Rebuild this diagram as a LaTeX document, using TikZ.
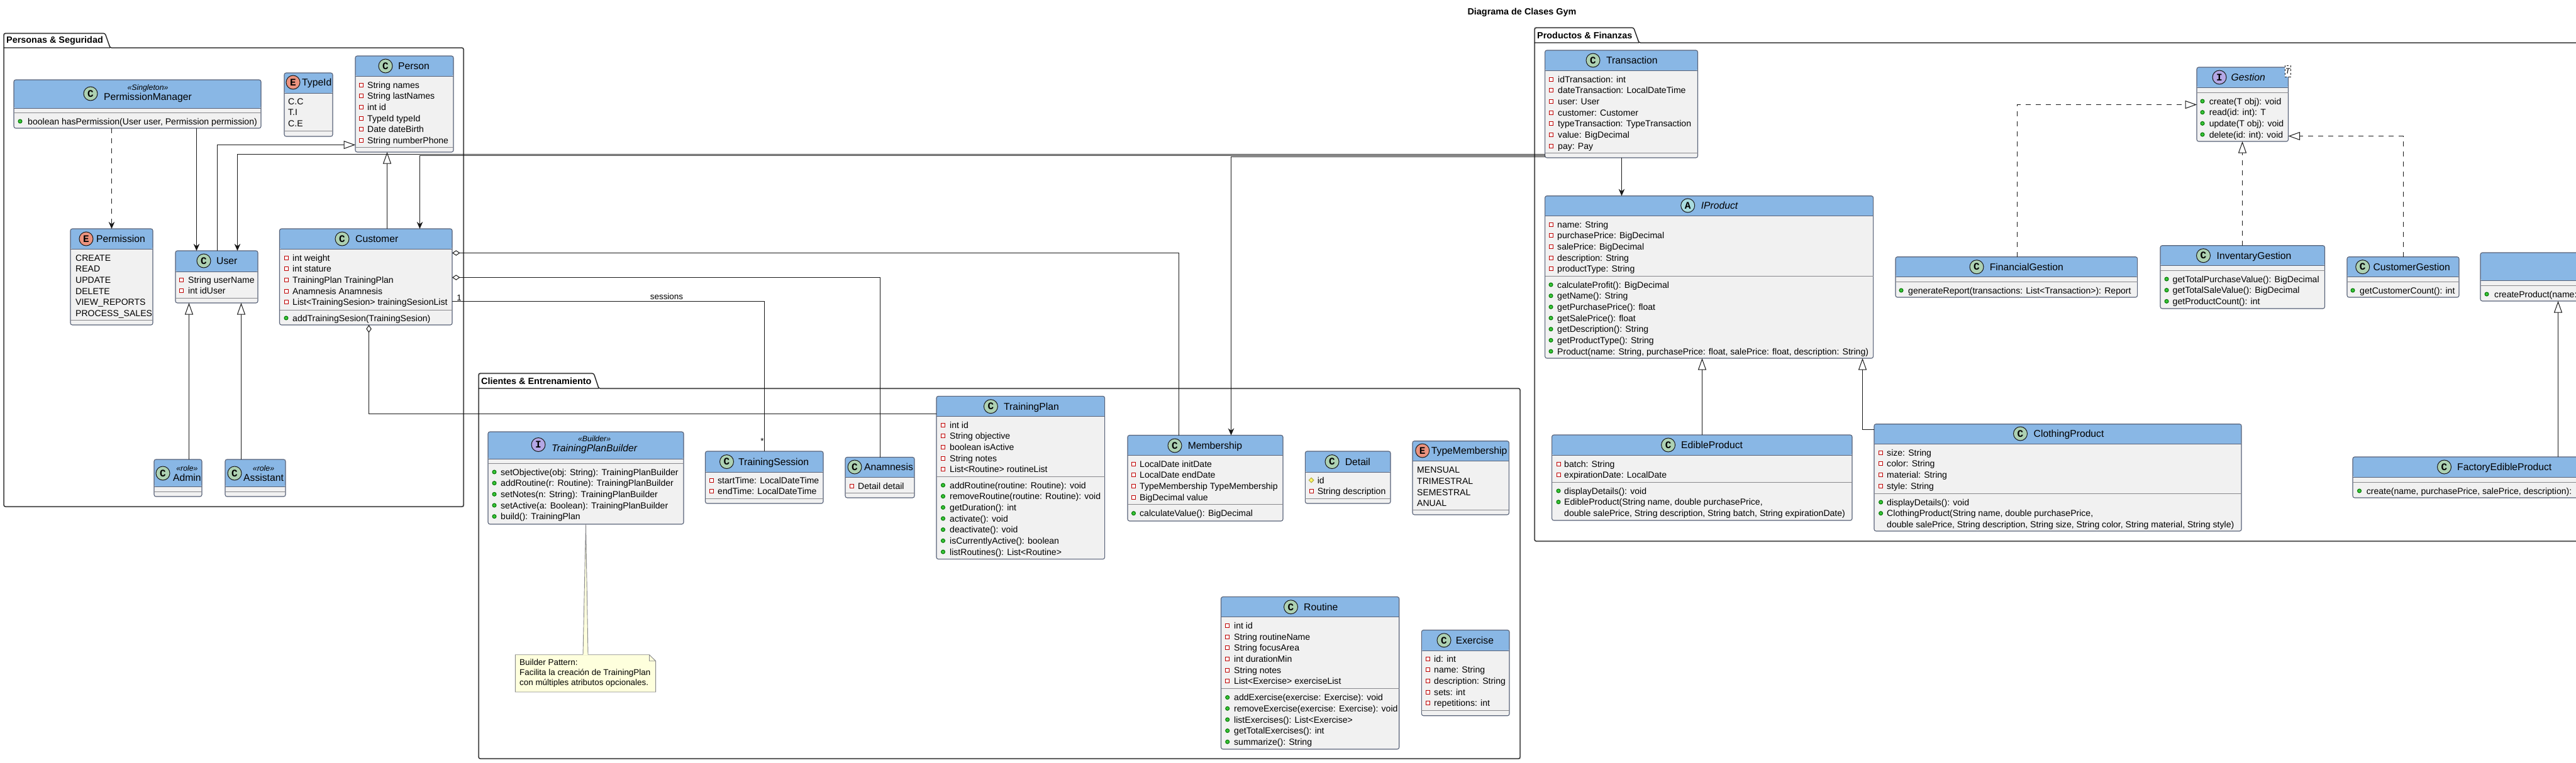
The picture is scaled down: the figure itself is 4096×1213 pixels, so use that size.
\documentclass[tikz,border=0pt]{standalone}
\usepackage{xcolor}
\usepackage{fontspec}
\setmainfont{Liberation Sans}
\newfontfamily\spotfont{Liberation Mono}
\usetikzlibrary{shapes.geometric,arrows.meta}
\definecolor{headblue}{RGB}{137,183,229}
\definecolor{bodygray}{RGB}{241,241,241}
\definecolor{boxline}{RGB}{88,98,120}
\definecolor{rowline}{RGB}{136,136,140}
\definecolor{ink}{RGB}{24,24,24}
\definecolor{notefill}{RGB}{254,255,221}
\definecolor{spotclass}{RGB}{173,209,178}
\definecolor{spotenum}{RGB}{235,147,127}
\definecolor{spotiface}{RGB}{180,167,229}
\definecolor{spotabstract}{RGB}{169,220,223}
\newcommand{\fName}{\fontsize{15.7}{16}\selectfont}
\newcommand{\fRow}{\fontsize{14.05}{18}\selectfont}
\newcommand{\fStereo}{\fontsize{12.3}{15}\selectfont\itshape}
\newcommand{\umlpackage}[9]{%
  \draw[pkgshadow,shift={(1,1)}] (#2,#6) -- (#2,#3) -- (#4,#3) -- (#5,#6) -- (#7,#6) -- (#7,#8) -- (#2,#8) -- cycle;
  \draw[pkg] (#2,#6) -- (#2,#3) -- (#4,#3) -- (#5,#6) -- (#7,#6) -- (#7,#8) -- (#2,#8) -- cycle
    (#2,#6) -- (#5,#6);
  \node[pkgname] (#1) at (#2+4,{(#3+#6)/2}) {#9};
}
\newcommand{\umlclass}[7]{%
  \node[cls,minimum width={(#4-#2)*1pt},minimum height={(#5-#3)*1pt},
    path picture={\fill[headblue] (path picture bounding box.north west) rectangle
      ([yshift={-(#6-#3)*1pt}]path picture bounding box.north east);}] (#1) at (#2,#3) {};
  \draw[headrule] (#2,#6) -- (#4,#6);
  \draw[bodyrule] (#2,#7) -- (#4,#7);
}
\newcommand{\umlhead}[7][clsname]{%
  \node[spot,spot#3] (#2-spot) at (#4,#5) {#3};
  \node[#1] (#2-name) at (#6,#5) {#7};
}
\newcommand{\umlrows}[5]{%
  \foreach \k/\t [count=\i, evaluate=\i as \yy using #4+(\i-1)*17.67] in {#5} {
    \node[mark\k] (#1-m\i) at (#2,\yy) {};
    \node[rowtxt] (#1-\i) at (#3,\yy) {\t};
  }
}
\begin{document}
\begin{tikzpicture}[
  x=1pt,y=-1pt,
  pkg/.style={draw=ink,line width=1.25pt,rounded corners=2.5pt},
  pkgshadow/.style={draw=black!25,line width=0.8pt,rounded corners=2.5pt},
  pkgname/.style={anchor=west,inner sep=0pt,font=\fontsize{14.4}{17}\selectfont\bfseries,text=black},
  cls/.style={rectangle,draw=boxline,line width=1.1pt,rounded corners=3pt,fill=bodygray,
    inner sep=0pt,outer sep=0pt,anchor=north west},
  headrule/.style={draw=boxline,line width=1pt},
  bodyrule/.style={draw=rowline,line width=1pt},
  spot/.style={circle,draw=ink,line width=1pt,minimum size=22pt,inner sep=0pt,
    font=\spotfont\bfseries\fontsize{16}{16}\selectfont},
  spotC/.style={fill=spotclass},
  spotE/.style={fill=spotenum},
  spotI/.style={fill=spotiface},
  spotA/.style={fill=spotabstract},
  clsname/.style={anchor=west,inner sep=0pt,font=\fName,text height=11.5pt,text depth=0pt},
  clsstereo/.style={anchor=west,inner sep=0pt,font=\fName,align=center},
  rowtxt/.style={anchor=west,inner sep=0pt,font=\fRow,text height=10.4pt,text depth=0pt},
  markpr/.style={rectangle,draw=red!75!black,fill=white,line width=1pt,minimum size=6pt,inner sep=0pt},
  markpu/.style={circle,draw=green!45!black,fill=green!55!gray,line width=1pt,minimum size=6pt,inner sep=0pt},
  markpk/.style={diamond,draw=yellow!65!black,fill=yellow!60,line width=1pt,minimum size=8pt,inner sep=0pt},
  markno/.style={draw=none,fill=none,minimum size=1pt,inner sep=0pt},
  link/.style={draw=ink,line width=1pt},
  assoc/.style={link,-{Stealth[length=11pt,width=9.5pt,inset=3.5pt]}},
  dep/.style={assoc,dash pattern=on 8pt off 8pt},
  inh/.style={link,-{Triangle[open,fill=white,length=18.5pt,width=13pt]}},
  impl/.style={inh,dash pattern=on 8pt off 8pt},
  aggr/.style={link,{Diamond[open,fill=white,length=12.5pt,width=8.5pt]}-},
  lbl/.style={inner sep=0pt,font=\fontsize{13.4}{15.7}\selectfont},
]
  \path[use as bounding box,clip] (0,0) rectangle (4096,1213);
  \fill[white] (0,0) rectangle (4096,1213);

  \node[pkgname,anchor=center] (title) at (2420,20) {Diagrama de Clases Gym};
  \umlpackage{pkgPeople}{6}{53}{167}{175}{76}{737}{806}{Personas \& Seguridad}
  \umlpackage{pkgTraining}{761}{594}{944}{952}{618}{2417}{1207}{Clientes \& Entrenamiento}
  \umlpackage{pkgProducts}{2440}{44}{2597.5}{2606}{68}{4200}{861}{Productos \& Finanzas}

  \umlclass{pm}{22}{127}{415}{204}{172}{179}
  \umlhead[clsstereo]{pm}{C}{144}{149}{165}{{\fStereo «Singleton»}\\PermissionManager}
  \umlrows{pm-b}{32}{44}{193}{pu/{boolean hasPermission(User user, Permission permission)}}

  \umlclass{typeid}{452}{116}{529}{217}{148}{208}
  \umlhead{typeid}{E}{466}{131}{480}{TypeId}
  \umlrows{typeid-a}{458}{458}{161}{no/C.C,no/T.I,no/C.E}

  \umlclass{person}{565}{89}{721}{242}{121}{234}
  \umlhead{person}{C}{613}{105}{633}{Person}
  \umlrows{person-a}{574}{584}{135}{pr/String names,pr/String lastNames,pr/int id,pr/TypeId typeId,pr/Date dateBirth,pr/String numberPhone}

  \umlclass{permission}{112}{364}{243}{517}{396}{509}
  \umlhead{permission}{E}{137}{380}{153}{Permission}
  \umlrows{permission-a}{120}{120}{410}{no/CREATE,no/READ,no/UPDATE,no/DELETE,no/VIEW\_REPORTS,no/PROCESS\_SALES}

  \umlclass{user}{279}{399}{410}{482}{432}{474}
  \umlhead{user}{C}{324}{415}{344}{User}
  \umlrows{user-a}{288}{299}{445}{pr/String userName,pr/int idUser}

  \umlclass{customer}{444.5}{364}{719}{517}{396}{493}
  \umlhead{customer}{C}{544}{380}{565}{Customer}
  \umlrows{customer-a}{455}{465}{410}{pr/int weight,pr/int stature,pr/TrainingPlan TrainingPlan,pr/Anamnesis Anamnesis,pr/List<TrainingSesion> trainingSesionList}
  \umlrows{customer-b}{455}{465}{506}{pu/addTrainingSesion(TrainingSesion)}

  \umlclass{admin}{245}{731}{321}{790}{774}{782}
  \umlhead[clsstereo]{admin}{C}{259}{753}{275}{{\fStereo «role»}\\Admin}
  \umlclass{assistant}{358}{731}{454}{790}{774}{782}
  \umlhead[clsstereo]{assistant}{C}{373}{753}{387}{{\fStereo «role»}\\Assistant}

  \umlclass{builder}{776}{687}{1087}{834}{730}{737.5}
  \umlhead[clsstereo]{builder}{I}{856}{707.5}{877}{{\fStereo «Builder»}\\\itshape TrainingPlanBuilder}
  \umlrows{builder-b}{786}{796}{751}{pu/{setObjective(obj: String): TrainingPlanBuilder},pu/{addRoutine(r: Routine): TrainingPlanBuilder},pu/{setNotes(n: String): TrainingPlanBuilder},pu/{setActive(a: Boolean): TrainingPlanBuilder},pu/{build(): TrainingPlan}}

  \umlclass{session}{1121.5}{718}{1309}{801}{751}{793}
  \umlhead{session}{C}{1155.5}{734.6}{1174}{TrainingSession}
  \umlrows{session-a}{1131}{1141}{764}{pr/startTime: LocalDateTime,pr/endTime: LocalDateTime}

  \umlclass{anamnesis}{1344}{727.5}{1454}{792}{759.6}{784.6}
  \umlhead{anamnesis}{C}{1359}{743}{1374}{Anamnesis}
  \umlrows{anamnesis-a}{1354}{1364}{773}{pr/Detail detail}

  \umlclass{plan}{1489}{630.4}{1756.6}{889.6}{662.5}{758}
  \umlhead{plan}{C}{1575.4}{646.7}{1596}{TrainingPlan}
  \umlrows{plan-a}{1499.5}{1510}{676}{pr/int id,pr/String objective,pr/boolean isActive,pr/String notes,pr/List<Routine> routineList}
  \umlrows{plan-b}{1499.5}{1510}{772}{pu/{addRoutine(routine: Routine): void},pu/{removeRoutine(routine: Routine): void},pu/getDuration(): int,pu/activate(): void,pu/deactivate(): void,pu/isCurrentlyActive(): boolean,pu/listRoutines(): List<Routine>}

  \umlclass{membership}{1793}{692.5}{2040}{829}{724.6}{802.5}
  \umlhead{membership}{C}{1868}{709}{1888.6}{Membership}
  \umlrows{membership-a}{1802.5}{1812}{738}{pr/LocalDate initDate,pr/LocalDate endDate,pr/TypeMembership TypeMembership,pr/BigDecimal value}
  \umlrows{membership-b}{1802.5}{1812}{816.7}{pu/calculateValue(): BigDecimal}

  \umlclass{detail}{2075.4}{718}{2211}{801}{751}{793}
  \umlhead{detail}{C}{2118}{734.6}{2138.6}{Detail}
  \umlrows{detail-a}{2085}{2094.6}{764}{pk/id,pr/String description}

  \umlclass{typeMembership}{2246}{701.7}{2399.4}{819}{733.75}{811.7}
  \umlhead{typeMembership}{E}{2261.7}{717}{2275.7}{TypeMembership}
  \umlrows{typeMembership-a}{2253}{2253}{747.5}{no/MENSUAL,no/TRIMESTRAL,no/SEMESTRAL,no/ANUAL}

  \umlclass{routine}{1941.5}{949.6}{2224.7}{1192}{981.7}{1095.8}
  \umlhead{routine}{C}{2052.5}{965.8}{2073}{Routine}
  \umlrows{routine-a}{1951.7}{1962}{995.4}{pr/int id,pr/String routineName,pr/String focusArea,pr/int durationMin,pr/String notes,pr/List<Exercise> exerciseList}
  \umlrows{routine-b}{1951.7}{1962}{1109.6}{pu/{addExercise(exercise: Exercise): void},pu/{removeExercise(exercise: Exercise): void},pu/listExercises(): List<Exercise>,pu/getTotalExercises(): int,pu/summarize(): String}

  \umlclass{exercise}{2260.4}{1002.5}{2400}{1138.75}{1035}{1130.8}
  \umlhead{exercise}{C}{2296}{1018.75}{2314.6}{Exercise}
  \umlrows{exercise-a}{2270.6}{2280}{1048}{pr/id: int,pr/name: String,pr/description: String,pr/sets: int,pr/repetitions: int}

  \umlclass{transaction}{2456.6}{80}{2699.5}{251}{112}{243}
  \umlhead{transaction}{C}{2533}{96}{2554}{Transaction}
  \umlrows{transaction-a}{2466}{2477}{126}{pr/idTransaction: int,pr/dateTransaction: LocalDateTime,pr/user: User,pr/customer: Customer,pr/typeTransaction: TypeTransaction,pr/value: BigDecimal,pr/pay: Pay}

  \umlclass{iproduct}{2456.6}{311.7}{2978.6}{570}{343.7}{439.7}
  \umlhead{iproduct}{A}{2683.7}{327}{2704.6}{\itshape IProduct}
  \umlrows{iproduct-a}{2466}{2476}{357}{pr/name: String,pr/purchasePrice: BigDecimal,pr/salePrice: BigDecimal,pr/description: String,pr/productType: String}
  \umlrows{iproduct-b}{2466}{2476}{453}{pu/calculateProfit(): BigDecimal,pu/getName(): String,pu/getPurchasePrice(): float,pu/getSalePrice(): float,pu/getDescription(): String,pu/getProductType(): String,pu/{Product(name: String, purchasePrice: float, salePrice: float, description: String)}}

  \umlclass{edible}{2467.6}{692}{2945}{828}{724}{767}
  \umlhead{edible}{C}{2652.6}{708}{2673}{EdibleProduct}
  \umlrows{edible-a}{2478}{2487}{738}{pr/batch: String,pr/expirationDate: LocalDate}
  \umlrows{edible-b}{2478}{2487}{781}{pu/displayDetails(): void,pu/{EdibleProduct(String name, double purchasePrice,},no/{double salePrice, String description, String batch, String expirationDate)}}

  \umlclass{clothing}{2980}{674.7}{3564}{845}{706.7}{785}
  \umlhead{clothing}{C}{3212.5}{690}{3233.5}{ClothingProduct}
  \umlrows{clothing-a}{2990.6}{3000}{720}{pr/size: String,pr/color: String,pr/material: String,pr/style: String}
  \umlrows{clothing-b}{2990.6}{3000}{799}{pu/displayDetails(): void,pu/{ClothingProduct(String name, double purchasePrice,},no/{double salePrice, String description, String size, String color, String material, String style)}}

  \umlclass{gestion}{3493}{107}{3638.5}{225}{139}{147}
  \umlhead{gestion}{I}{3529}{123}{3547.5}{\itshape Gestion}
  \umlrows{gestion-b}{3502}{3512.6}{161}{pu/create(T obj): void,pu/read(id: int): T,pu/update(T obj): void,pu/delete(id: int): void}
  \node[draw=ink,dashed,fill=white,line width=0.8pt,minimum width=9pt,minimum height=18pt,inner sep=0pt,
    font=\fontsize{12.3}{14}\selectfont\itshape] (gestion-t) at (3637.5,113) {T};

  \umlclass{financial}{3014}{408.7}{3398.6}{473}{440}{448}
  \umlhead{financial}{C}{3143}{424.7}{3163.6}{FinancialGestion}
  \umlrows{financial-b}{3023}{3034}{462}{pu/{generateReport(transactions: List<Transaction>): Report}}

  \umlclass{inventary}{3435}{390.7}{3696.5}{491}{422}{430}
  \umlhead{inventary}{C}{3503.5}{406.7}{3524.5}{InventaryGestion}
  \umlrows{inventary-b}{3445}{3454.5}{444}{pu/getTotalPurchaseValue(): BigDecimal,pu/getTotalSaleValue(): BigDecimal,pu/getProductCount(): int}

  \umlclass{customerGestion}{3732}{408.7}{3910}{473}{440}{448}
  \umlhead{customerGestion}{C}{3756.7}{424.7}{3773.4}{CustomerGestion}
  \umlrows{customerGestion-b}{3741}{3752}{462}{pu/getCustomerCount(): int}

  \umlclass{factoryBase}{3944}{402}{4200}{479}{446}{454}
  \umlrows{factoryBase-b}{3954}{3966}{468}{pu/{createProduct(name:}}

  \umlclass{factoryEdible}{3741}{727}{4200}{792}{759}{767}
  \umlhead{factoryEdible}{C}{3886.5}{743}{3907}{FactoryEdibleProduct}
  \umlrows{factoryEdible-b}{3751.5}{3762.6}{781}{pu/{create(name, purchasePrice, salePrice, description):}}

  \fill[notefill] (819.4,1041.7) -- (1032.5,1041.7) -- (1042.6,1051.7) -- (1042.6,1101) -- (819.4,1101) -- cycle;
  \draw[rowline,line width=0.9pt] (819.4,1041.7) -- (1032.5,1041.7) -- (1042.6,1051.7) -- (1042.6,1101) -- (819.4,1101) -- cycle
    (1032.5,1041.7) |- (1042.6,1051.7);
  \node[lbl,anchor=north west,align=left] (note) at (826,1049) {Builder Pattern:\\Facilita la creación de TrainingPlan\\con múltiples atributos opcionales.};
  \fill[notefill] (builder.south -| 931.5,0) -- (927,1042.2) -- (935,1042.2) -- cycle;
  \draw[rowline,line width=0.9pt] (927,1041.7) -- (builder.south -| 931.5,0) -- (935,1041.7);

  \draw[dep] (pm.south -| 177.5,0) -- (permission.north -| 177.5,0);
  \draw[assoc] (pm.south -| 312.5,0) -- (user.north -| 312.5,0);
  \draw[inh] (user.north -| 345.5,0) |- (person.west |- 0,230.5);
  \draw[inh] (customer.north -| 615.5,0) -- (person.south -| 615.5,0);
  \draw[inh] (admin.north -| 300.5,0) -- (user.south -| 300.5,0);
  \draw[inh] (assistant.north -| 383.5,0) -- (user.south -| 383.5,0);

  \draw[assoc] (transaction.west |- 0,245.5) -| (user.north -| 377.5,0);
  \draw[assoc] (transaction.west |- 0,247.5) -| (customer.north -| 667.5,0);
  \draw[assoc] (transaction.west |- 0,249.5) -| (membership.north -| 1957.5,0);
  \draw[assoc] (transaction.south -| 2578.5,0) -- (iproduct.north -| 2578.5,0);

  \draw[aggr] (customer.east |- 0,402.5) -| (membership.north -| 1874.5,0);
  \draw[aggr] (customer.east |- 0,441.5) -| (anamnesis.north -| 1399.5,0);
  \draw[aggr] (customer.south -| 586.5,0) |- (plan.west |- 0,658.5);
  \draw[link] (customer.east |- 0,479.5) -| (session.north -| 1215.5,0);
  \node[lbl] (sessionLabel) at (1060,471.7) {sessions};
  \node[lbl] (sessionOne) at (730,473.7) {1};
  \node[lbl] (sessionMany) at (1212,702) {*};

  \draw[inh] (edible.north -| 2706.5,0) -- (iproduct.south -| 2706.5,0);
  \draw[inh] (clothing.west |- 0,683.5) -| (iproduct.south -| 2961.5,0);
  \draw[inh] (factoryEdible.north -| 4067.5,0) -- (factoryBase.south -| 4067.5,0);

  \draw[impl] (financial.north -| 3207.5,0) |- (gestion.west |- 0,166.5);
  \draw[impl] (inventary.north -| 3565.5,0) -- (gestion.south -| 3565.5,0);
  \draw[impl] (customerGestion.north -| 3821.5,0) |- (gestion.east |- 0,216.5);
\end{tikzpicture}
\end{document}
